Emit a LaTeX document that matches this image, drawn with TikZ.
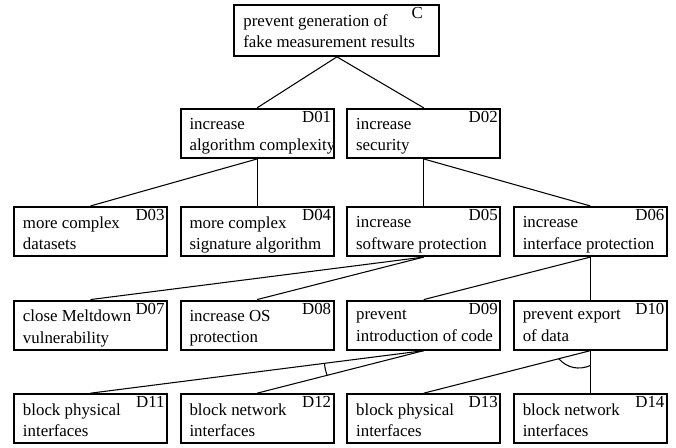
\documentclass[tikz,border=0pt]{standalone}
\usepackage{fontspec}
\setmainfont{Liberation Serif}
\usepackage{tikz}
\usetikzlibrary{positioning,calc}
\newcommand{\goalfont}{\fontsize{9.6pt}{12.2pt}\selectfont}

\begin{document}
\begin{tikzpicture}[
    node distance=0.85cm and 0.23cm,
    goal/.style={rectangle, draw, line width=1.2pt, minimum width=3.06cm, minimum height=0.98cm, inner sep=0pt},
    rootgoal/.style={goal, minimum width=4.1cm, minimum height=1.02cm},
    gtext/.style={anchor=north west, align=left, inner xsep=0.2cm, inner ysep=0.21cm, outer sep=0pt,
        font=\goalfont, execute at begin node=\strut},
    gid/.style={anchor=north east, inner xsep=0.07cm, inner ysep=0.066cm, outer sep=0pt, font=\goalfont},
    link/.style={line width=0.6pt}
]
\useasboundingbox (0,0) rectangle (13.52,-8.94);

% third row first, the rest hangs off it
\node[goal, label={[gtext]north west:{more complex\\datasets}}, label={[gid]north east:D03}] (D03) at (1.81,-4.63) {};
\node[goal, right=of D03, label={[gtext]north west:{more complex\\signature algorithm}}, label={[gid]north east:D04}] (D04) {};
\node[goal, right=of D04, label={[gtext]north west:{increase\\software protection}}, label={[gid]north east:D05}] (D05) {};
\node[goal, right=of D05, label={[gtext]north west:{increase\\interface protection}}, label={[gid]north east:D06}] (D06) {};

\node[goal, above=0.94cm of D04, label={[gtext]north west:{increase\\algorithm complexity}}, label={[gid]north east:D01}] (D01) {};
\node[goal, above=0.94cm of D05, label={[gtext]north west:{increase\\security}}, label={[gid]north east:D02}] (D02) {};
\node[rootgoal, above=1.02cm of $(D01.north)!0.5!(D02.north)$, xshift=-0.07cm,
    label={[gtext]north west:{prevent generation of\\fake measurement results}},
    label={[gid, inner xsep=0.35cm, inner ysep=0.07cm]north east:C}] (C) {};

\node[goal, below=of D03, label={[gtext]north west:{close Meltdown\\vulnerability}}, label={[gid]north east:D07}] (D07) {};
\node[goal, right=of D07, label={[gtext]north west:{increase OS\\protection}}, label={[gid]north east:D08}] (D08) {};
\node[goal, right=of D08, label={[gtext]north west:{prevent\\introduction of code}}, label={[gid]north east:D09}] (D09) {};
\node[goal, right=of D09, label={[gtext]north west:{prevent export\\of data}}, label={[gid]north east:D10}] (D10) {};

\node[goal, below=of D07, label={[gtext]north west:{block physical\\interfaces}}, label={[gid]north east:D11}] (D11) {};
\node[goal, right=of D11, label={[gtext]north west:{block network\\interfaces}}, label={[gid]north east:D12}] (D12) {};
\node[goal, right=of D12, label={[gtext]north west:{block physical\\interfaces}}, label={[gid]north east:D13}] (D13) {};
\node[goal, right=of D13, label={[gtext]north west:{block network\\interfaces}}, label={[gid]north east:D14}] (D14) {};

% refinement links
\draw[link] (C.south) -- (D01.north);
\draw[link] (C.south) -- (D02.north);
\draw[link] (D01.south) -- (D03.north);
\draw[link] (D01.south) -- (D04.north);
\draw[link] (D02.south) -- (D05.north);
\draw[link] (D02.south) -- (D06.north);
\draw[link] (D05.south) -- (D07.north);
\draw[link] (D05.south) -- (D08.north);
\draw[link] (D06.south) -- (D09.north);
\draw[link] (D06.south) -- (D10.north);
\draw[link] (D09.south) -- (D11.north);
\draw[link] (D09.south) -- (D12.north);
\draw[link] (D10.south) -- (D13.north);
\draw[link] (D10.south) -- (D14.north);

% and-arcs
\draw[link] ($(D09.south)!0.298!(D11.north)$) to[bend right=6] ($(D09.south)!0.58!(D12.north)$);
\draw[link] ($(D10.south)!0.19!(D13.north)$) to[bend right=35] ($(D10.south)!0.35!(D14.north)$);

\end{tikzpicture}
\end{document}
